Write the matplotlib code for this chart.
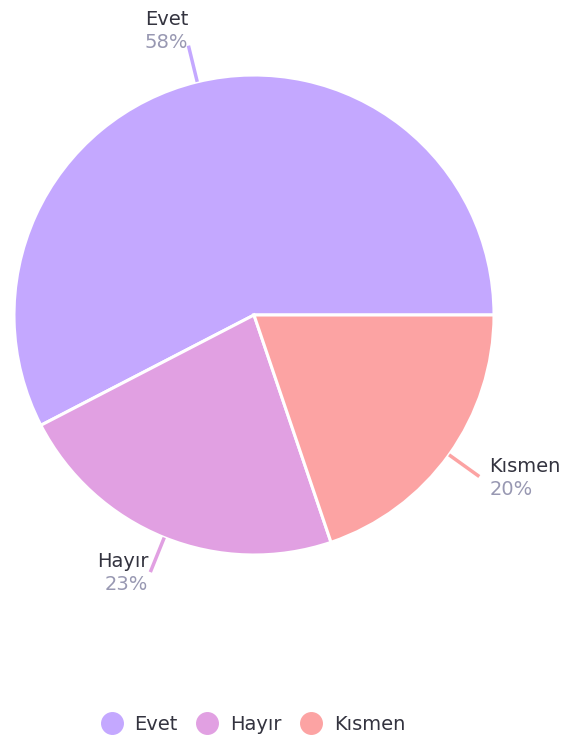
import matplotlib
matplotlib.use("Agg")
import matplotlib.pyplot as plt
from matplotlib.lines import Line2D
import numpy as np

categories = ["Evet", "Hayır", "Kısmen"]
values = [57.6, 22.6, 19.8]
colors = ["#C4A8FF", "#E1A0E2", "#FCA3A3"]

plt.rcParams['font.family'] = ['DejaVu Sans']

W, H = 574, 738
fig = plt.figure(figsize=(W / 100, H / 100), dpi=100)
ax = fig.add_axes([0, 0, 1, 1])

cx, cy, R = 254, H - 315, 240
wedges, _ = ax.pie(values, colors=colors, startangle=0, counterclock=True,
                   center=(cx, cy), radius=R, frame=True,
                   wedgeprops=dict(edgecolor="white", linewidth=2.2))
ax.set_xlim(0, W)
ax.set_ylim(0, H)
ax.axis("off")

total = sum(values)
name_col = "#33333F"
pct_col = "#9898B2"
fs = 14
for w, cat, v, col in zip(wedges, categories, values, colors):
    ang = np.deg2rad((w.theta1 + w.theta2) / 2)
    c, s = np.cos(ang), np.sin(ang)
    x0, y0 = cx + R * c, cy + R * s
    x1, y1 = cx + 1.155 * R * c, cy + 1.155 * R * s
    ax.plot([x0, x1], [y0, y1], color=col, lw=2.5, solid_capstyle="butt", clip_on=False)
    pct = f"{round(v / total * 100):d}%"
    if s > 0.9:
        tx, ty = x1, y1 + 15
        ha = "right"
    else:
        ha = "left" if c > 0 else "right"
        tx = x1 + (10 if c > 0 else -2)
        ty = y1 - 1
    ax.text(tx, ty + 11.5, cat, ha=ha, va="center", fontsize=fs, color=name_col)
    ax.text(tx, ty - 11.5, pct, ha=ha, va="center", fontsize=fs, color=pct_col)

handles = [Line2D([], [], marker="o", ls="", markersize=15.5, markerfacecolor=c,
                  markeredgecolor=c) for c in colors]
fig.legend(handles, categories, loc="center", bbox_to_anchor=(252.5 / W, 1 - 724 / H),
           ncol=3, frameon=False, fontsize=fs, handletextpad=0.55,
           columnspacing=0.95, handlelength=1.2, labelcolor=name_col)

fig.savefig("out.png", dpi=100)
